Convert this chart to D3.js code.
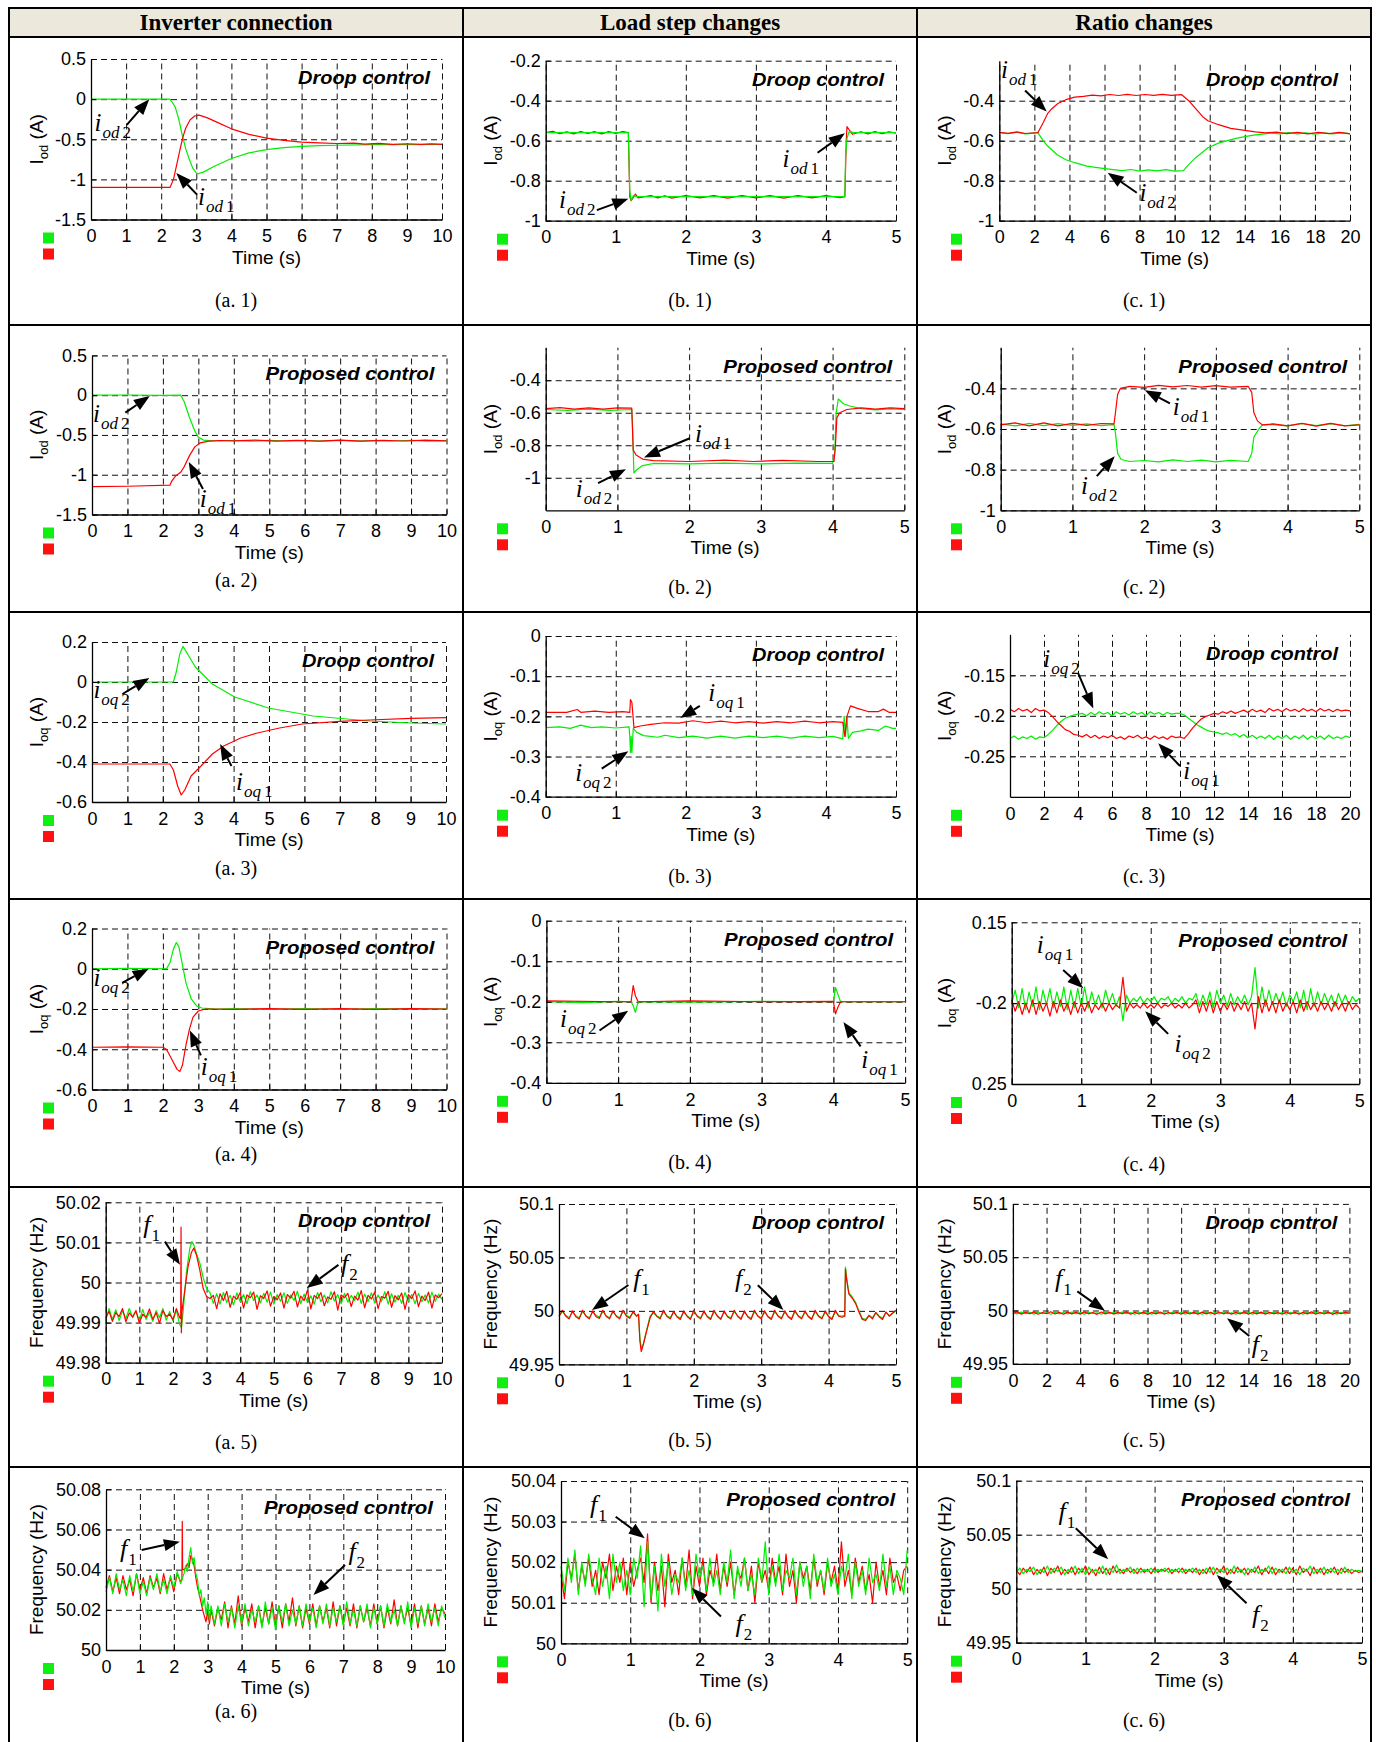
<!DOCTYPE html>
<html>
<head>
<meta charset="utf-8">
<script src="https://cdn.jsdelivr.net/npm/d3@7/dist/d3.min.js"></script>
<style>
body{margin:0;background:#fff;}
svg{display:block;}
</style>
</head>
<body>
<script>
// ---------- table layout ----------
var W = 1376, H = 1742;
var COL_LEFT = [9, 463, 917], COL_RIGHT = [463, 917, 1371];
var ROW_LINES = [8, 37, 325, 612, 899, 1187, 1467];
var headers = ["Inverter connection", "Load step changes", "Ratio changes"];
var SANS = "'Liberation Sans', Arial, sans-serif", SERIF = "'Liberation Serif', 'Times New Roman', serif";
var GREEN = "#00ee00", RED = "#ff0000";
var DROOP = "Droop control", PROPOSED = "Proposed control";

// ---------- ticks ----------
var xTicks10 = [0,1,2,3,4,5,6,7,8,9,10];
var xTicks5 = [0,1,2,3,4,5];
var xTicks20 = [0,2,4,6,8,10,12,14,16,18,20];

// sample times for evenly recorded pieces
function even(t0, t1, vals){
	return vals.map(function(v,i){ return [t0 + i*(t1-t0)/(vals.length-1), v]; });
}

// ---------- row 1 : i_od, droop ----------
var a1Green = [[0,0],[2.25,0],[2.3,-0.03],[2.4,-0.1],[2.5,-0.25],[2.6,-0.45],[2.7,-0.62],[2.8,-0.75],[2.9,-0.86],[3.0,-0.92],[3.05,-0.93],[3.2,-0.91],[3.5,-0.84],[4,-0.74],[4.5,-0.67],[5,-0.63],[5.5,-0.605],[6,-0.59],[6.5,-0.58],[7,-0.575],[8,-0.568],[9,-0.566],[10,-0.565]];
var a1Red = [[0,-1.1],[2.25,-1.1],[2.35,-1.0],[2.45,-0.8],[2.55,-0.6],[2.62,-0.47],[2.7,-0.36],[2.82,-0.26],[2.95,-0.21],[3.08,-0.2],[3.3,-0.23],[3.6,-0.29],[4,-0.37],[4.5,-0.44],[5,-0.485],[5.5,-0.515],[6,-0.535],[6.5,-0.545],[7,-0.553],[7.5,-0.548],[7.8,-0.56],[8.2,-0.552],[8.6,-0.565],[9,-0.556],[9.4,-0.565],[9.7,-0.558],[10,-0.565]];
var a1Notes = [
	{s:"i", sub:"od", n:"2", at:[0.1,-0.4], from:[1.02,-0.32], to:[1.66,0.0]},
	{s:"i", sub:"od", n:"1", at:[3.05,-1.32], from:[3.02,-1.19], to:[2.43,-0.92]}
];

var b1Green = [[0,-0.56],[1.18,-0.56],[1.2,-0.85],[1.22,-0.9],[1.25,-0.875],[1.3,-0.88],[2,-0.88],[3,-0.88],[4,-0.88],[4.27,-0.88],[4.28,-0.68],[4.3,-0.59],[4.33,-0.555],[4.4,-0.56],[5,-0.56]];
var b1Red = [[0,-0.56],[0.1,-0.553],[0.2,-0.565],[0.3,-0.556],[0.4,-0.566],[0.5,-0.554],[0.6,-0.564],[0.7,-0.555],[0.8,-0.566],[0.9,-0.554],[1.0,-0.563],[1.1,-0.555],[1.18,-0.56],[1.2,-0.88],[1.22,-0.9],[1.24,-0.89],[1.28,-0.867],[1.32,-0.886],[1.5,-0.874],[1.6,-0.886],[1.7,-0.875],[1.8,-0.887],[2.0,-0.874],[2.2,-0.886],[2.4,-0.875],[2.6,-0.887],[2.8,-0.874],[3.0,-0.886],[3.2,-0.875],[3.4,-0.887],[3.6,-0.874],[3.8,-0.886],[4.0,-0.875],[4.2,-0.885],[4.27,-0.88],[4.29,-0.6],[4.3,-0.53],[4.33,-0.545],[4.38,-0.568],[4.5,-0.555],[4.6,-0.566],[4.7,-0.554],[4.8,-0.565],[4.9,-0.556],[5,-0.562]];
var b1Notes = [
	{s:"i", sub:"od", n:"1", at:[3.38,-0.73], from:[3.88,-0.66], to:[4.27,-0.563]},
	{s:"i", sub:"od", n:"2", at:[0.19,-0.938], from:[0.73,-0.947], to:[1.18,-0.89]}
];

var c1Green = [[0,-0.56],[0.5,-0.565],[1,-0.558],[1.5,-0.566],[2.2,-0.56],[2.5,-0.6],[2.77,-0.628],[3.3,-0.67],[3.8,-0.695],[4.3,-0.71],[5,-0.727],[5.8,-0.737],[6.5,-0.745],[7,-0.75],[7.5,-0.744],[8,-0.752],[8.5,-0.746],[9,-0.751],[9.5,-0.745],[10,-0.752],[10.5,-0.75],[10.8,-0.72],[11.2,-0.685],[11.9,-0.635],[12.5,-0.612],[13,-0.6],[13.5,-0.588],[14,-0.58],[14.5,-0.572],[15,-0.567],[15.5,-0.562],[16,-0.566],[16.5,-0.56],[17,-0.566],[17.5,-0.561],[18,-0.567],[18.5,-0.561],[19,-0.566],[19.5,-0.561],[20,-0.565]];
var c1Red = [[0,-0.558],[0.5,-0.563],[1,-0.556],[1.5,-0.564],[2.2,-0.56],[2.5,-0.51],[2.77,-0.462],[3.0,-0.44],[3.34,-0.414],[3.8,-0.395],[4.3,-0.382],[4.8,-0.378],[5.3,-0.372],[5.8,-0.376],[6.3,-0.369],[6.8,-0.374],[7.3,-0.368],[7.8,-0.374],[8.3,-0.369],[8.8,-0.373],[9.3,-0.368],[9.8,-0.373],[10.4,-0.37],[10.8,-0.4],[11.2,-0.44],[11.6,-0.48],[11.9,-0.5],[12.5,-0.52],[13.2,-0.538],[14.1,-0.55],[14.6,-0.556],[15.2,-0.561],[15.8,-0.557],[16.4,-0.565],[17,-0.558],[17.6,-0.566],[18.2,-0.558],[18.8,-0.565],[19.4,-0.558],[20,-0.566]];
var c1Notes = [
	{s:"i", sub:"od", n:"1", at:[0.1,-0.288], from:[1.47,-0.349], to:[2.7,-0.454]},
	{s:"i", sub:"od", n:"2", at:[7.99,-0.9], from:[7.84,-0.86], to:[6.18,-0.76]}
];

// ---------- row 2 : i_od, proposed ----------
var a2Green = [[0,0],[1,0.002],[2,-0.002],[2.5,0],[2.6,-0.08],[2.75,-0.28],[2.9,-0.45],[3.0,-0.53],[3.15,-0.565],[3.4,-0.575],[4,-0.57],[4.5,-0.578],[5,-0.568],[5.5,-0.576],[6,-0.57],[6.5,-0.578],[7,-0.568],[7.5,-0.577],[8,-0.57],[8.5,-0.576],[9,-0.568],[9.5,-0.577],[10,-0.572]];
var a2Red = [[0,-1.15],[1,-1.145],[2.2,-1.13],[2.25,-1.08],[2.35,-1.02],[2.5,-0.97],[2.6,-0.9],[2.75,-0.76],[2.9,-0.65],[3.05,-0.6],[3.3,-0.578],[3.6,-0.57],[4,-0.575],[4.6,-0.566],[5.2,-0.578],[5.8,-0.567],[6.4,-0.577],[7,-0.566],[7.6,-0.578],[8.2,-0.567],[8.8,-0.576],[9.4,-0.566],[10,-0.574]];
var a2Notes = [
	{s:"i", sub:"od", n:"2", at:[0.03,-0.34], from:[0.94,-0.22], to:[1.63,-0.01]},
	{s:"i", sub:"od", n:"1", at:[3.04,-1.4], from:[3.13,-1.18], to:[2.73,-0.84]}
];

var b2Green = [[0,-0.58],[0.3,-0.585],[0.6,-0.578],[0.9,-0.585],[1.2,-0.58],[1.21,-0.67],[1.23,-0.97],[1.27,-0.95],[1.35,-0.925],[1.5,-0.912],[2,-0.915],[2.5,-0.91],[3,-0.915],[3.5,-0.91],[4,-0.912],[4.03,-0.85],[4.05,-0.6],[4.08,-0.515],[4.15,-0.545],[4.25,-0.56],[4.4,-0.575],[4.6,-0.582],[4.8,-0.576],[5,-0.58]];
var b2Red = [[0,-0.575],[0.2,-0.568],[0.4,-0.578],[0.6,-0.57],[0.8,-0.578],[1.0,-0.57],[1.2,-0.572],[1.22,-0.83],[1.26,-0.86],[1.35,-0.885],[1.5,-0.895],[2,-0.9],[2.5,-0.892],[2.9,-0.9],[3.3,-0.893],[3.8,-0.9],[4.02,-0.9],[4.04,-0.8],[4.06,-0.63],[4.1,-0.6],[4.2,-0.58],[4.4,-0.57],[4.6,-0.578],[4.8,-0.57],[5,-0.575]];
var b2Notes = [
	{s:"i", sub:"od", n:"1", at:[2.08,-0.782], from:[2.01,-0.757], to:[1.37,-0.875]},
	{s:"i", sub:"od", n:"2", at:[0.42,-1.12], from:[0.73,-1.033], to:[1.12,-0.947]}
];

var c2Green = [[0,-0.575],[0.2,-0.585],[0.4,-0.572],[0.6,-0.583],[0.8,-0.574],[1.0,-0.582],[1.2,-0.575],[1.4,-0.583],[1.58,-0.578],[1.6,-0.62],[1.63,-0.72],[1.68,-0.75],[1.8,-0.76],[2,-0.755],[2.2,-0.762],[2.4,-0.752],[2.6,-0.76],[2.8,-0.753],[3,-0.762],[3.2,-0.754],[3.45,-0.76],[3.5,-0.72],[3.53,-0.64],[3.6,-0.6],[3.65,-0.58],[3.8,-0.578],[4,-0.585],[4.2,-0.573],[4.4,-0.583],[4.6,-0.574],[4.8,-0.584],[5,-0.577]];
var c2Red = [[0,-0.58],[0.2,-0.57],[0.4,-0.585],[0.6,-0.57],[0.8,-0.585],[1,-0.572],[1.2,-0.582],[1.4,-0.573],[1.58,-0.575],[1.6,-0.52],[1.63,-0.43],[1.67,-0.4],[1.8,-0.39],[2,-0.395],[2.2,-0.385],[2.4,-0.393],[2.6,-0.386],[2.8,-0.394],[3,-0.387],[3.2,-0.394],[3.45,-0.39],[3.5,-0.42],[3.53,-0.52],[3.58,-0.56],[3.65,-0.58],[3.8,-0.575],[4,-0.585],[4.2,-0.572],[4.4,-0.586],[4.6,-0.572],[4.8,-0.585],[5,-0.58]];
var c2Notes = [
	{s:"i", sub:"od", n:"1", at:[2.4,-0.53], from:[2.36,-0.474], to:[2.01,-0.409]},
	{s:"i", sub:"od", n:"2", at:[1.12,-0.92], from:[1.34,-0.832], to:[1.59,-0.734]}
];

// ---------- row 3 : i_oq, droop ----------
var a3Green = [[0,0],[2.3,0],[2.38,0.05],[2.48,0.14],[2.57,0.178],[2.7,0.14],[2.92,0.075],[3.4,-0.01],[4.03,-0.075],[4.98,-0.13],[6.25,-0.17],[7.84,-0.195],[9,-0.205],[10,-0.21]];
var a3Red = [[0,-0.41],[2.2,-0.41],[2.3,-0.44],[2.42,-0.52],[2.52,-0.565],[2.62,-0.54],[2.8,-0.47],[3.08,-0.42],[3.4,-0.36],[3.72,-0.32],[4.2,-0.28],[4.67,-0.255],[5.3,-0.23],[5.94,-0.21],[7,-0.197],[7.84,-0.19],[9,-0.182],[10,-0.178]];
var a3Notes = [
	{s:"i", sub:"oq", n:"2", at:[0.04,-0.078], from:[0.86,-0.06], to:[1.62,0.02]},
	{s:"i", sub:"oq", n:"1", at:[4.07,-0.54], from:[3.94,-0.42], to:[3.62,-0.31]}
];

var b3Green = [[0,-0.228],[0.2,-0.226],[0.35,-0.23],[0.5,-0.222],[0.65,-0.228],[0.8,-0.226],[1.0,-0.229],[1.19,-0.226],[1.2,-0.25],[1.21,-0.29],[1.22,-0.25],[1.23,-0.29],[1.25,-0.23],[1.3,-0.24],[1.4,-0.248],[1.6,-0.252],[1.7,-0.247],[1.9,-0.253],[2.1,-0.249],[2.3,-0.254],[2.5,-0.249],[2.7,-0.254],[2.9,-0.249],[3.1,-0.253],[3.3,-0.249],[3.5,-0.254],[3.7,-0.249],[3.9,-0.253],[4.1,-0.25],[4.24,-0.256],[4.26,-0.2],[4.28,-0.25],[4.3,-0.2],[4.32,-0.255],[4.38,-0.24],[4.5,-0.236],[4.6,-0.232],[4.75,-0.235],[4.85,-0.224],[4.95,-0.23],[5,-0.23]];
var b3Red = [[0,-0.19],[0.3,-0.19],[0.45,-0.183],[0.5,-0.19],[0.7,-0.187],[0.9,-0.19],[1.1,-0.188],[1.2,-0.19],[1.21,-0.158],[1.23,-0.165],[1.26,-0.228],[1.35,-0.224],[1.5,-0.22],[1.7,-0.216],[1.9,-0.217],[2.1,-0.211],[2.3,-0.216],[2.5,-0.212],[2.7,-0.216],[2.9,-0.213],[3.1,-0.217],[3.3,-0.213],[3.5,-0.216],[3.7,-0.212],[3.9,-0.216],[4.1,-0.213],[4.24,-0.215],[4.27,-0.25],[4.3,-0.2],[4.35,-0.174],[4.45,-0.18],[4.6,-0.188],[4.75,-0.188],[4.82,-0.182],[4.9,-0.19],[5,-0.19]];
var b3Notes = [
	{s:"i", sub:"oq", n:"1", at:[2.32,-0.163], from:[2.2,-0.174], to:[1.92,-0.204]},
	{s:"i", sub:"oq", n:"2", at:[0.42,-0.36], from:[0.8,-0.33], to:[1.18,-0.287]}
];

var c3Red = [-0.192,-0.195,-0.191,-0.194,-0.192,-0.196,-0.191,-0.194,-0.193,
	-0.196,-0.201,-0.207,-0.212,-0.217,-0.219,-0.223,-0.224,
	-0.226,-0.223,-0.227,-0.224,-0.228,-0.225,-0.227,-0.224,-0.228,-0.226,-0.229,-0.225,-0.227,-0.224,-0.228,-0.226,-0.229,-0.225,-0.228,-0.226,-0.229,-0.225,-0.227,-0.226,
	-0.228,-0.222,-0.215,-0.209,-0.204,-0.201,-0.199,-0.197,
	-0.198,-0.195,-0.197,-0.194,-0.197,-0.195,-0.193,-0.196,-0.192,-0.195,-0.193,-0.196,-0.191,-0.194,-0.192,-0.195,-0.191,-0.194,-0.192,-0.195,-0.191,-0.194,-0.192,-0.195,-0.191,-0.194,-0.192,-0.195,-0.192,-0.194,-0.193,-0.194];
var c3Green = [-0.228,-0.225,-0.229,-0.226,-0.228,-0.225,-0.229,-0.226,-0.227,
	-0.223,-0.218,-0.212,-0.207,-0.203,-0.201,-0.199,-0.198,
	-0.197,-0.2,-0.196,-0.199,-0.195,-0.198,-0.196,-0.2,-0.195,-0.198,-0.196,-0.199,-0.195,-0.198,-0.196,-0.2,-0.195,-0.198,-0.196,-0.199,-0.196,-0.198,-0.197,-0.197,
	-0.199,-0.203,-0.207,-0.211,-0.214,-0.217,-0.219,-0.22,
	-0.221,-0.223,-0.221,-0.224,-0.222,-0.226,-0.223,-0.227,-0.224,-0.228,-0.225,-0.228,-0.224,-0.229,-0.225,-0.228,-0.224,-0.229,-0.225,-0.228,-0.224,-0.229,-0.225,-0.228,-0.225,-0.229,-0.224,-0.228,-0.226,-0.228,-0.225,-0.227];
var c3Notes = [
	{s:"i", sub:"oq", n:"2", at:[1.96,-0.14], from:[4.02,-0.148], to:[4.9,-0.191]},
	{s:"i", sub:"oq", n:"1", at:[10.19,-0.278], from:[10.0,-0.262], to:[8.72,-0.234]}
];

// ---------- row 4 : i_oq, proposed ----------
var a4Green = [[0,0],[1,0.002],[2.1,0],[2.2,0.03],[2.3,0.1],[2.38,0.13],[2.45,0.11],[2.55,0.02],[2.65,-0.07],[2.8,-0.15],[2.95,-0.185],[3.1,-0.195],[3.5,-0.2],[4,-0.198],[5,-0.202],[6,-0.198],[7,-0.202],[8,-0.198],[9,-0.201],[10,-0.199]];
var a4Red = [[0,-0.39],[1,-0.388],[2,-0.39],[2.1,-0.4],[2.25,-0.45],[2.4,-0.5],[2.48,-0.51],[2.55,-0.48],[2.65,-0.38],[2.75,-0.3],[2.85,-0.24],[3,-0.21],[3.2,-0.2],[4,-0.202],[5,-0.198],[6,-0.202],[7,-0.198],[8,-0.202],[9,-0.198],[10,-0.2]];
var a4Notes = [
	{s:"i", sub:"oq", n:"2", at:[0.04,-0.087], from:[0.85,-0.07], to:[1.6,0.0]},
	{s:"i", sub:"oq", n:"1", at:[3.07,-0.53], from:[3.07,-0.43], to:[2.76,-0.307]}
];

var b4Green = [[0,-0.2],[0.5,-0.202],[1,-0.199],[1.18,-0.2],[1.21,-0.21],[1.24,-0.226],[1.27,-0.205],[1.3,-0.2],[2,-0.201],[3,-0.199],[4,-0.2],[4.03,-0.165],[4.06,-0.18],[4.1,-0.2],[5,-0.2]];
var b4Red = [[0,-0.198],[1,-0.2],[1.18,-0.2],[1.21,-0.16],[1.24,-0.185],[1.28,-0.2],[2,-0.198],[3,-0.2],[4,-0.199],[4.03,-0.23],[4.06,-0.215],[4.1,-0.2],[5,-0.2]];
var b4Notes = [
	{s:"i", sub:"oq", n:"2", at:[0.19,-0.263], from:[0.74,-0.271], to:[1.14,-0.222]},
	{s:"i", sub:"oq", n:"1", at:[4.39,-0.364], from:[4.38,-0.31], to:[4.14,-0.25]}
];

var c4Green = [-0.2,-0.192,-0.203,-0.191,-0.204,-0.193,-0.202,-0.19,-0.204,-0.192,-0.201,-0.191,-0.203,-0.193,-0.202,-0.19,-0.204,-0.192,-0.203,-0.191,
	-0.202,-0.19,-0.203,-0.193,-0.201,-0.195,-0.203,-0.192,-0.2,-0.194,-0.202,-0.196,-0.211,-0.195,-0.2,-0.197,
	-0.199,-0.196,-0.2,-0.197,-0.199,-0.196,-0.2,-0.197,-0.198,-0.196,-0.2,-0.197,-0.199,-0.196,-0.2,-0.197,-0.198,
	-0.194,-0.202,-0.195,-0.201,-0.193,-0.203,-0.192,-0.2,-0.195,-0.202,-0.194,-0.201,-0.196,-0.2,-0.195,-0.201,-0.196,
	-0.178,-0.203,-0.19,-0.202,-0.192,-0.201,-0.194,-0.2,-0.193,-0.202,-0.195,-0.199,-0.193,-0.203,-0.192,-0.204,-0.191,-0.202,-0.193,-0.201,-0.194,-0.2,-0.195,-0.202,-0.194,-0.2,-0.195,-0.201,-0.196,-0.199,-0.197];
var c4Red = [-0.198,-0.205,-0.199,-0.207,-0.2,-0.206,-0.198,-0.207,-0.199,-0.205,-0.2,-0.208,-0.199,-0.206,-0.198,-0.205,-0.2,-0.207,-0.199,-0.206,
	-0.2,-0.205,-0.199,-0.206,-0.201,-0.204,-0.2,-0.205,-0.2,-0.204,-0.201,-0.203,-0.184,-0.205,-0.2,-0.203,
	-0.201,-0.203,-0.2,-0.203,-0.201,-0.203,-0.2,-0.203,-0.201,-0.202,-0.2,-0.203,-0.201,-0.203,-0.2,-0.203,-0.201,
	-0.198,-0.206,-0.199,-0.205,-0.198,-0.206,-0.199,-0.205,-0.2,-0.204,-0.199,-0.205,-0.2,-0.204,-0.199,-0.205,-0.2,
	-0.216,-0.196,-0.206,-0.198,-0.205,-0.199,-0.206,-0.198,-0.205,-0.2,-0.204,-0.199,-0.206,-0.198,-0.205,-0.199,-0.204,-0.2,-0.205,-0.199,-0.204,-0.2,-0.205,-0.199,-0.204,-0.2,-0.205,-0.199,-0.204,-0.201,-0.203];
var c4TickLabels = ["0.25", "-0.2", "0.15"];
var c4Notes = [
	{s:"i", sub:"oq", n:"1", at:[0.36,-0.169], from:[0.74,-0.1795], to:[1.03,-0.1908]},
	{s:"i", sub:"oq", n:"2", at:[2.34,-0.23], from:[2.25,-0.219], to:[1.92,-0.205]}
];

// ---------- row 5 : frequency, droop ----------
var a5GreenPre = [49.9905,49.9935,49.9908,49.9932,49.9905,49.993,49.991,49.9935,49.9912,49.9928,49.9905,49.9933,49.9908,49.9926,49.9903,49.993,49.9912,49.9935,49.9906,49.9928,49.9904,49.9932,49.9895];
var a5GreenJump = [[2.25,49.9888],[2.3,49.9925],[2.4,50.0025],[2.5,50.0085],[2.56,50.0102],[2.62,50.0094],[2.7,50.0072],[2.8,50.0048],[2.9,50.0012],[3.0,49.9985],[3.1,49.9975]];
var a5GreenPost = [49.9948,49.9972,49.9946,49.9975,49.995,49.9968,49.9944,49.9974,49.9952,49.997,49.9947,49.9977,49.9955,49.9969,49.9949,49.9973,49.9951,49.9976,49.9946,49.997,49.9953,49.9974,49.9948,49.9969,49.9955,49.9978,49.9947,49.9971,49.995,49.9967,49.9946,49.9975,49.9952,49.9969,49.9949,49.9977,49.9954,49.997,49.9947,49.9973,49.9951,49.9968,49.9955,49.9976,49.9948,49.9971,49.9952,49.9974,49.9949,49.9969,49.9953,49.9977,49.9946,49.9972,49.9951,49.9968,49.9948,49.9975,49.9954,49.997,49.9947,49.9973,49.9952,49.9969,49.9949,49.9976,49.9953,49.9971,49.9958];
var a5RedPre = [49.9912,49.9928,49.9903,49.9925,49.9915,49.9935,49.9902,49.9924,49.9914,49.993,49.9899,49.9921,49.9913,49.9934,49.9908,49.9925,49.9898,49.993,49.9915,49.9921,49.9907,49.9935,49.9912];
var a5RedJump = [[2.23,49.991],[2.24,50.0138],[2.25,49.9875],[2.27,49.993],[2.35,49.998],[2.45,50.004],[2.55,50.0075],[2.62,50.0086],[2.7,50.0068],[2.8,50.003],[2.9,49.9985],[3.0,49.9965],[3.1,49.996]];
var a5RedPost = [49.9968,49.9935,49.9972,49.9955,49.9978,49.9938,49.9966,49.9958,49.9975,49.9936,49.9969,49.9962,49.9976,49.9933,49.9967,49.996,49.9979,49.9941,49.9965,49.9957,49.9974,49.9936,49.997,49.9961,49.9978,49.9939,49.9966,49.9955,49.9981,49.9934,49.9968,49.996,49.9975,49.9942,49.9964,49.9958,49.9977,49.9931,49.9969,49.9962,49.9973,49.994,49.9966,49.9956,49.998,49.9937,49.9968,49.9959,49.9976,49.9935,49.9965,49.9961,49.9978,49.9938,49.9967,49.9957,49.9974,49.9933,49.997,49.996,49.9979,49.994,49.9966,49.9955,49.9976,49.9936,49.9969,49.9962,49.9972];
var a5Notes = [
	{s:"f", n:"1", at:[1.12,50.0123], from:[1.76,50.0102], to:[2.21,50.0044]},
	{s:"f", n:"2", at:[7.0,50.0027], from:[6.92,50.0044], to:[5.98,49.9986]}
];

var b5GreenPre = [49.995,49.9995,49.996,49.9935,49.999,49.9955,49.9935,49.9995,49.9955,49.9935,49.999,49.996,49.994,49.9995,49.9955,49.9935,49.999,49.9955,49.9935,49.9995,49.996,49.994,49.9985,49.995];
var b5GreenDip = [[1.18,49.996],[1.2,49.975],[1.22,49.965],[1.25,49.969],[1.3,49.982],[1.35,49.995],[1.4,49.998]];
var b5GreenMid = [49.9955,49.9935,49.999,49.9955,49.9935,49.9985,49.995,49.993,49.9985,49.9955,49.993,49.999,49.9955,49.9935,49.9985,49.995,49.993,49.999,49.9955,49.993,49.9985,49.995,49.9935,49.999,49.9955,49.993,49.9985,49.995,49.993,49.999,49.9955,49.9935,49.9985,49.995,49.993,49.999,49.9955,49.9935,49.9985,49.995,49.993,49.999,49.9955,49.9935,49.9985,49.995,49.993,49.999,49.9955,49.9935,49.9985,49.995,49.993,49.999,49.9955,49.995];
var b5GreenSpike = [[4.24,49.996],[4.25,50.041],[4.27,50.03],[4.3,50.017],[4.35,50.013],[4.4,50.008],[4.45,50.0],[4.5,49.993]];
var b5GreenPost = [49.992,49.996,49.9935,49.998,49.995,49.993,49.9985,49.9955,49.9975,50.0];
var b5RedPre = [49.995,50.0005,49.995,49.9925,50.0,49.9945,49.9925,50.0005,49.995,49.9925,50.0,49.9945,49.993,50.0005,49.995,49.9925,50.0,49.995,49.9925,50.0005,49.995,49.993,49.9995,49.995];
var b5RedDip = [[1.18,49.997],[1.2,49.972],[1.22,49.962],[1.25,49.968],[1.3,49.981],[1.35,49.993],[1.4,49.9995]];
var b5RedMid = [49.995,49.9925,50.0005,49.995,49.9925,49.9995,49.9945,49.992,50.0,49.995,49.992,50.0005,49.995,49.9925,50.0,49.9945,49.992,50.0005,49.995,49.992,50.0,49.9945,49.9925,50.0005,49.995,49.992,50.0,49.9945,49.992,50.0005,49.995,49.9925,50.0,49.9945,49.992,50.0005,49.995,49.9925,50.0,49.9945,49.992,50.0005,49.995,49.9925,50.0,49.9945,49.992,50.0005,49.995,49.9925,50.0,49.9945,49.992,50.0005,49.995,49.994];
var b5RedSpike = [[4.24,49.995],[4.25,50.039],[4.27,50.028],[4.3,50.016],[4.35,50.012],[4.4,50.007],[4.45,49.999],[4.5,49.992]];
var b5RedPost = [49.991,49.9955,49.9925,49.9985,49.9945,49.992,49.999,49.995,49.998,50.0005];
var b5Notes = [
	{s:"f", n:"1", at:[1.1,50.0226], from:[1.03,50.0242], to:[0.49,50.0008]},
	{s:"f", n:"2", at:[2.61,50.0226], from:[2.95,50.024], to:[3.33,50.0008]}
];

var c5Green = [49.998,49.9968,49.9985,49.997,49.9982,49.9966,49.9984,49.9971,49.9979,49.9965,49.9983,49.9969,49.9981,49.9967,49.9986,49.997,49.998,49.9966,49.9983,49.9972,49.9979,49.9965,49.9984,49.9969,49.9982,49.9967,49.9985,49.9971,49.998,49.9966,49.9983,49.9968,49.9981,49.9965,49.9984,49.997,49.9979,49.9967,49.9985,49.9969,49.9982,49.9966,49.9983,49.9971,49.998,49.9965,49.9984,49.9968,49.9981,49.9967,49.9986,49.997,49.9979,49.9966,49.9983,49.9969,49.9982,49.9965,49.9984,49.9971,49.998,49.9967,49.9985,49.9968,49.9981,49.9966,49.9983,49.997,49.9979,49.9965,49.9984,49.9969,49.9982,49.9967,49.9985,49.9971,49.998,49.9966,49.9983,49.9968,49.9978];
var c5Red = [49.9972,49.9986,49.9966,49.9983,49.9969,49.9987,49.9965,49.9981,49.997,49.9988,49.9967,49.9982,49.9965,49.9985,49.9968,49.9983,49.9966,49.9987,49.9969,49.9981,49.9964,49.9986,49.9968,49.9984,49.9966,49.9982,49.9969,49.9987,49.9965,49.9983,49.9967,49.9985,49.9964,49.9982,49.9968,49.9986,49.9966,49.9981,49.9969,49.9984,49.9965,49.9987,49.9967,49.9982,49.9966,49.9985,49.9968,49.9983,49.9964,49.9986,49.9969,49.9981,49.9966,49.9984,49.9967,49.9987,49.9965,49.9982,49.9968,49.9985,49.9966,49.9983,49.9969,49.9981,49.9965,49.9986,49.9967,49.9984,49.9966,49.9982,49.9968,49.9987,49.9965,49.9983,49.9967,49.9985,49.9964,49.9982,49.9969,49.9984,49.9974];
var c5Notes = [
	{s:"f", n:"1", at:[2.5,50.022], from:[3.83,50.018], to:[5.47,49.9997]},
	{s:"f", n:"2", at:[14.19,49.9604], from:[14.05,49.976], to:[12.73,49.9927]}
];

// ---------- row 6 : frequency, proposed ----------
var a6GreenPre = [50.029,50.036,50.028,50.038,50.03,50.035,50.027,50.037,50.029,50.038,50.028,50.034,50.027,50.036,50.03,50.038,50.029,50.035,50.028,50.037,50.031,50.039,50.033];
var a6GreenJump = [[2.3,50.038],[2.35,50.042],[2.4,50.039],[2.45,50.046],[2.5,50.051],[2.55,50.043],[2.6,50.046],[2.65,50.038],[2.7,50.035],[2.75,50.027],[2.8,50.03],[2.85,50.022],[2.9,50.026],[2.95,50.018],[3.0,50.024],[3.05,50.015],[3.1,50.022]];
var a6GreenPost = [50.013,50.022,50.012,50.023,50.014,50.021,50.011,50.022,50.013,50.023,50.012,50.02,50.014,50.022,50.011,50.024,50.013,50.021,50.01,50.022,50.014,50.023,50.012,50.02,50.013,50.022,50.012,50.023,50.014,50.021,50.011,50.022,50.013,50.023,50.012,50.021,50.014,50.022,50.012,50.024,50.013,50.02,50.012,50.022,50.014,50.023,50.011,50.021,50.013,50.022,50.012,50.023,50.014,50.02,50.012,50.022,50.013,50.024,50.011,50.021,50.013,50.022,50.012,50.023,50.014,50.021,50.012,50.022,50.016];
var a6RedPre = [50.031,50.037,50.029,50.036,50.028,50.037,50.03,50.035,50.027,50.038,50.03,50.036,50.028,50.037,50.031,50.036,50.028,50.038,50.03,50.036,50.029,50.038,50.034];
var a6RedJump = [[2.24,50.035],[2.25,50.064],[2.26,50.04],[2.3,50.04],[2.35,50.041],[2.4,50.043],[2.45,50.041],[2.5,50.047],[2.55,50.045],[2.6,50.042],[2.65,50.036],[2.7,50.031],[2.75,50.028],[2.8,50.024],[2.85,50.02],[2.9,50.017],[2.95,50.014],[3.0,50.02],[3.05,50.013],[3.1,50.02]];
var a6RedPost = [50.012,50.021,50.015,50.024,50.011,50.022,50.013,50.027,50.012,50.021,50.014,50.023,50.011,50.022,50.012,50.021,50.013,50.024,50.012,50.022,50.011,50.023,50.014,50.026,50.012,50.022,50.011,50.021,50.013,50.023,50.012,50.022,50.014,50.021,50.011,50.024,50.012,50.022,50.013,50.021,50.012,50.023,50.011,50.022,50.014,50.021,50.012,50.023,50.013,50.022,50.011,50.021,50.013,50.025,50.012,50.022,50.014,50.021,50.012,50.023,50.011,50.022,50.013,50.021,50.012,50.023,50.014,50.021,50.018];
var a6Notes = [
	{s:"f", n:"1", at:[0.41,50.0465], from:[1.05,50.0498], to:[2.18,50.0539]},
	{s:"f", n:"2", at:[7.15,50.0448], from:[7.05,50.0423], to:[6.12,50.0274]}
];

var b6Green = [50.019,50.013,50.021,50.015,50.023,50.012,50.02,50.014,50.022,50.016,50.012,50.021,50.014,50.019,50.011,50.022,50.015,50.02,50.013,50.018,
	50.012,50.021,50.016,50.024,50.009,50.025,50.011,50.019,50.008,50.022,50.014,50.02,50.012,50.017,50.015,50.021,50.013,50.018,50.012,50.022,
	50.016,50.019,50.013,50.021,50.014,50.018,50.012,50.02,50.015,50.023,50.011,50.019,50.014,50.021,50.013,50.017,50.012,50.021,50.015,50.025,
	50.012,50.019,50.014,50.022,50.013,50.018,50.016,50.021,50.012,50.02,50.014,50.019,50.011,50.022,50.015,50.018,50.013,50.021,50.014,50.017,
	50.012,50.019,50.016,50.022,50.011,50.02,50.014,50.018,50.012,50.021,50.015,50.017,50.013,50.022,50.014,50.019,50.012,50.018,50.016,50.012,50.023];
var b6Red = [50.017,50.011,50.02,50.016,50.022,50.013,50.019,50.015,50.021,50.014,50.018,50.012,50.02,50.016,50.022,50.013,50.019,50.015,50.021,50.012,
	50.02,50.014,50.018,50.021,50.015,50.027,50.01,50.02,50.013,50.019,50.009,50.022,50.015,50.018,50.012,50.021,50.014,50.023,50.011,50.019,
	50.014,50.021,50.012,50.018,50.015,50.022,50.013,50.019,50.014,50.02,50.012,50.018,50.016,50.021,50.013,50.019,50.01,50.02,50.015,50.018,
	50.013,50.021,50.015,50.019,50.012,50.022,50.014,50.018,50.01,50.02,50.016,50.019,50.013,50.021,50.014,50.018,50.012,50.02,50.015,50.019,
	50.013,50.025,50.014,50.018,50.012,50.021,50.015,50.019,50.013,50.017,50.01,50.02,50.014,50.018,50.012,50.021,50.015,50.017,50.013,50.018,50.019];
var b6Notes = [
	{s:"f", n:"1", at:[0.42,50.032], from:[0.79,50.0312], to:[1.21,50.0259]},
	{s:"f", n:"2", at:[2.52,50.0029], from:[2.31,50.0066], to:[1.89,50.0136]}
];

var c6Green = [50.015,50.019,50.014,50.018,50.016,50.02,50.013,50.018,50.015,50.021,50.014,50.019,50.016,50.02,50.013,50.018,50.015,50.021,50.014,50.019,50.013,50.02,50.015,50.018,50.014,50.021,50.013,50.019,50.015,50.022,50.014,50.018,50.016,50.02,50.014,50.019,50.015,50.018,50.016,50.019,50.015,50.018,50.016,50.019,50.015,50.018,50.016,50.019,50.015,50.018,50.016,50.019,50.015,50.018,50.014,50.019,50.015,50.02,50.014,50.018,50.015,50.019,50.014,50.021,50.015,50.018,50.013,50.019,50.015,50.02,50.014,50.018,50.016,50.021,50.014,50.019,50.015,50.018,50.014,50.02,50.015,50.018,50.013,50.019,50.016,50.021,50.014,50.018,50.015,50.02,50.014,50.019,50.015,50.018,50.014,50.02,50.015,50.018,50.016,50.017,50.016];
var c6Red = [50.017,50.013,50.019,50.015,50.02,50.013,50.018,50.014,50.02,50.012,50.019,50.015,50.021,50.013,50.018,50.014,50.02,50.013,50.019,50.015,50.021,50.013,50.018,50.012,50.02,50.014,50.019,50.013,50.021,50.015,50.018,50.014,50.019,50.015,50.018,50.014,50.019,50.015,50.018,50.014,50.019,50.015,50.018,50.016,50.019,50.014,50.018,50.015,50.019,50.014,50.018,50.015,50.019,50.013,50.018,50.014,50.02,50.013,50.019,50.015,50.021,50.013,50.018,50.014,50.02,50.015,50.019,50.013,50.018,50.015,50.021,50.013,50.019,50.014,50.02,50.013,50.018,50.015,50.02,50.014,50.019,50.013,50.021,50.015,50.018,50.012,50.02,50.014,50.019,50.013,50.018,50.015,50.02,50.013,50.019,50.015,50.018,50.014,50.017,50.015,50.016];
var c6Notes = [
	{s:"f", n:"1", at:[0.61,50.0637], from:[0.86,50.056], to:[1.33,50.0273]},
	{s:"f", n:"2", at:[3.41,49.968], from:[3.33,49.9866], to:[2.9,50.0128]}
];

// ---------- panel table ----------
var panels = [
	{col:0, row:0, box:[91,59,442,219.5], cap:307, xd:[0,10], xt:xTicks10, yd:[-1.5,0.5], yt:[-1.5,-1,-0.5,0,0.5], yl:"od", title:DROOP, g:a1Green, r:a1Red, notes:a1Notes},
	{col:1, row:0, box:[545.7,60.7,896,220.7], cap:307, xd:[0,5], xt:xTicks5, yd:[-1,-0.2], yt:[-1,-0.8,-0.6,-0.4,-0.2], yl:"od", title:DROOP, greenTop:true, g:b1Green, r:b1Red, notes:b1Notes},
	{col:2, row:0, box:[999.3,60.7,1350,220.7], cap:307, xd:[0,20], xt:xTicks20, yd:[-1,-0.2], yt:[-1,-0.8,-0.6,-0.4], yl:"od", title:DROOP, g:c1Green, r:c1Red, notes:c1Notes},
	{col:0, row:1, box:[92,355.4,446.5,514.5], cap:587, xd:[0,10], xt:xTicks10, yd:[-1.5,0.5], yt:[-1.5,-1,-0.5,0,0.5], yl:"od", title:PROPOSED, g:a2Green, r:a2Red, notes:a2Notes},
	{col:1, row:1, box:[545.7,347.7,904.3,510.3], cap:594, xd:[0,5], xt:xTicks5, yd:[-1.2,-0.2], yt:[-1,-0.8,-0.6,-0.4], yl:"od", title:PROPOSED, g:b2Green, r:b2Red, notes:b2Notes},
	{col:2, row:1, box:[1000.7,347.7,1359.3,510.3], cap:594, xd:[0,5], xt:xTicks5, yd:[-1,-0.2], yt:[-1,-0.8,-0.6,-0.4], yl:"od", title:PROPOSED, g:c2Green, r:c2Red, notes:c2Notes},
	{col:0, row:2, box:[92,642,446,802], cap:875, xd:[0,10], xt:xTicks10, yd:[-0.6,0.2], yt:[-0.6,-0.4,-0.2,0,0.2], yl:"oq", title:DROOP, g:a3Green, r:a3Red, notes:a3Notes},
	{col:1, row:2, box:[545.7,636,896,796.7], cap:883, xd:[0,5], xt:xTicks5, yd:[-0.4,0], yt:[-0.4,-0.3,-0.2,-0.1,0], yl:"oq", title:DROOP, g:b3Green, r:b3Red, notes:b3Notes},
	{col:2, row:2, box:[1010,634.8,1350,796.8], cap:883, xd:[0,20], xt:xTicks20, yd:[-0.3,-0.1], yt:[-0.25,-0.2,-0.15], yl:"oq", title:DROOP, g:even(0,20,c3Green), r:even(0,20,c3Red), notes:c3Notes},
	{col:0, row:3, box:[92,928.5,446.5,1089.5], cap:1161, xd:[0,10], xt:xTicks10, yd:[-0.6,0.2], yt:[-0.6,-0.4,-0.2,0,0.2], yl:"oq", title:PROPOSED, g:a4Green, r:a4Red, notes:a4Notes},
	{col:1, row:3, box:[546.4,920.7,905.1,1082.8], cap:1169, xd:[0,5], xt:xTicks5, yd:[-0.4,0], yt:[-0.4,-0.3,-0.2,-0.1,0], yl:"oq", title:PROPOSED, g:b4Green, r:b4Red, notes:b4Notes},
	{col:2, row:3, box:[1011.7,922.3,1359.3,1084], cap:1171, xd:[0,5], xt:xTicks5, yd:[-0.25,-0.15], yt:[-0.25,-0.2,-0.15], ytl:c4TickLabels, yl:"oq", title:PROPOSED, g:even(0,5,c4Green), r:even(0,5,c4Red), notes:c4Notes},
	{col:0, row:4, box:[105.7,1202.3,442,1362.7], cap:1449, xd:[0,10], xt:xTicks10, yd:[49.98,50.02], yt:[49.98,49.99,50,50.01,50.02], yl:"freq", title:DROOP,
		g:[].concat(even(0,2.2,a5GreenPre), a5GreenJump, even(3.2,10,a5GreenPost)), r:[].concat(even(0,2.2,a5RedPre), a5RedJump, even(3.2,10,a5RedPost)), notes:a5Notes},
	{col:1, row:4, box:[559,1204,896,1364.3], cap:1447, xd:[0,5], xt:xTicks5, yd:[49.95,50.1], yt:[49.95,50,50.05,50.1], yl:"freq", title:DROOP,
		g:[].concat(even(0,1.15,b5GreenPre), b5GreenDip, even(1.45,4.2,b5GreenMid), b5GreenSpike, even(4.55,5,b5GreenPost)),
		r:[].concat(even(0,1.15,b5RedPre), b5RedDip, even(1.45,4.2,b5RedMid), b5RedSpike, even(4.55,5,b5RedPost)), notes:b5Notes},
	{col:2, row:4, box:[1012.9,1203.9,1349.4,1363.8], cap:1447, xd:[0,20], xt:xTicks20, yd:[49.95,50.1], yt:[49.95,50,50.05,50.1], yl:"freq", title:DROOP, g:even(0,20,c5Green), r:even(0,20,c5Red), notes:c5Notes},
	{col:0, row:5, box:[106,1489.3,445,1650], cap:1718, xd:[0,10], xt:xTicks10, yd:[50,50.08], yt:[50,50.02,50.04,50.06,50.08], yl:"freq", title:PROPOSED, greenTop:true,
		g:[].concat(even(0,2.2,a6GreenPre), a6GreenJump, even(3.2,10,a6GreenPost)), r:[].concat(even(0,2.2,a6RedPre), a6RedJump, even(3.2,10,a6RedPost)), notes:a6Notes},
	{col:1, row:5, box:[561,1481,907.2,1643.3], cap:1727, xd:[0,5], xt:xTicks5, yd:[50,50.04], yt:[50,50.01,50.02,50.03,50.04], yl:"freq", title:PROPOSED, greenTop:true, g:even(0,5,b6Green), r:even(0,5,b6Red), notes:b6Notes},
	{col:2, row:5, box:[1016.3,1480.7,1362,1642.7], cap:1727, xd:[0,5], xt:xTicks5, yd:[49.95,50.1], yt:[49.95,50,50.05,50.1], yl:"freq", title:PROPOSED, greenTop:true, g:even(0,5,c6Green), r:even(0,5,c6Red), notes:c6Notes}
];

// ---------- drawing ----------
var svg = d3.select("body").append("svg").attr("width", W).attr("height", H);
svg.append("rect").attr("width", W).attr("height", H).attr("fill", "#fff");

// header band + table lines
svg.append("rect").attr("x", 9).attr("y", 8).attr("width", 1362).attr("height", 29).attr("fill", "#ECE9DC");
headers.forEach(function(h, i){
	svg.append("text").attr("x", (COL_LEFT[i]+COL_RIGHT[i])/2).attr("y", 30)
		.attr("text-anchor", "middle").attr("font-family", SERIF).attr("font-weight", "bold")
		.attr("font-size", 23).text(h);
});
ROW_LINES.forEach(function(yy){
	svg.append("line").attr("x1", 8).attr("x2", 1372).attr("y1", yy).attr("y2", yy)
		.attr("stroke", "#000").attr("stroke-width", 2);
});
[9, 463, 917, 1371].forEach(function(xx){
	svg.append("line").attr("x1", xx).attr("x2", xx).attr("y1", 7).attr("y2", H)
		.attr("stroke", "#000").attr("stroke-width", 2);
});

function drawPanel(p){
	var l = p.box[0], t = p.box[1], r = p.box[2], b = p.box[3];
	var cl = COL_LEFT[p.col], cr = COL_RIGHT[p.col];
	var x = d3.scaleLinear().domain(p.xd).range([l, r]);
	var y = d3.scaleLinear().domain(p.yd).range([b, t]);
	var g = svg.append("g").attr("class", "panel");

	// dashed grid
	var gx = g.append("g").attr("transform", "translate(0," + b + ")")
		.call(d3.axisBottom(x).tickValues(p.xt).tickSize(-(b-t)).tickSizeOuter(0).tickFormat(""));
	gx.select(".domain").remove();
	gx.selectAll("line").attr("stroke", "#111").attr("stroke-width", 1).attr("stroke-dasharray", "6,4");
	var gy = g.append("g").attr("transform", "translate(" + l + ",0)")
		.call(d3.axisLeft(y).tickValues(p.yt).tickSize(-(r-l)).tickSizeOuter(0).tickFormat(""));
	gy.select(".domain").remove();
	gy.selectAll("line").attr("stroke", "#111").attr("stroke-width", 1).attr("stroke-dasharray", "6,4");

	// curves
	var line = d3.line().x(function(d){ return x(d[0]); }).y(function(d){ return y(d[1]); });
	var order = p.greenTop ? [[p.r, RED], [p.g, GREEN]] : [[p.g, GREEN], [p.r, RED]];
	order.forEach(function(s){
		g.append("path").datum(s[0]).attr("d", line).attr("fill", "none")
			.attr("stroke", s[1]).attr("stroke-width", 1.2).attr("stroke-linejoin", "round");
	});

	// solid axes with inward ticks
	var fmtY = function(d, i){ return p.ytl ? p.ytl[i] : String(d); };
	var ax = g.append("g").attr("transform", "translate(0," + b + ")")
		.call(d3.axisBottom(x).tickValues(p.xt).tickSize(-5).tickSizeOuter(0).tickPadding(10).tickFormat(function(d){ return String(d); }));
	var ay = g.append("g").attr("transform", "translate(" + l + ",0)")
		.call(d3.axisLeft(y).tickValues(p.yt).tickSize(-5).tickSizeOuter(0).tickPadding(5).tickFormat(fmtY));
	[ax, ay].forEach(function(a){
		a.attr("font-family", SANS).attr("font-size", 18);
		a.select(".domain").attr("stroke", "#000").attr("stroke-width", 1.3);
		a.selectAll(".tick line").attr("stroke", "#000").attr("stroke-width", 1);
		a.selectAll(".tick text").attr("fill", "#000");
	});

	// axis titles
	g.append("text").attr("x", (l+r)/2).attr("y", b+44).attr("text-anchor", "middle")
		.attr("font-family", SANS).attr("font-size", 19).text("Time (s)");
	var yt = g.append("text").attr("transform", "translate(" + (cl+34) + "," + ((t+b)/2) + ") rotate(-90)")
		.attr("text-anchor", "middle").attr("font-family", SANS).attr("font-size", 19);
	if(p.yl === "freq"){
		yt.text("Frequency (Hz)");
	}else{
		yt.append("tspan").text("I");
		yt.append("tspan").attr("font-size", 13).attr("dy", 5).text(p.yl);
		yt.append("tspan").attr("dy", -5).text(" (A)");
	}

	// panel title
	g.append("text").attr("x", r-12).attr("y", t+25).attr("text-anchor", "end")
		.attr("font-family", SANS).attr("font-weight", "bold").attr("font-style", "italic")
		.attr("font-size", 19).attr("textLength", p.title === DROOP ? 132 : 169)
		.attr("lengthAdjust", "spacingAndGlyphs").text(p.title);

	// empty legend swatches
	g.append("rect").attr("x", cl+34).attr("y", b+13).attr("width", 11).attr("height", 11).attr("fill", "#11ee11");
	g.append("rect").attr("x", cl+34).attr("y", b+29).attr("width", 11).attr("height", 11).attr("fill", "#ff1111");

	// caption
	g.append("text").attr("x", (cl+cr)/2).attr("y", p.cap).attr("text-anchor", "middle")
		.attr("font-family", SERIF).attr("font-size", 20)
		.text("(" + "abc"[p.col] + ". " + (p.row+1) + ")");

	// arrows and labels
	p.notes.forEach(function(n){
		var x1 = x(n.from[0]), y1 = y(n.from[1]), x2 = x(n.to[0]), y2 = y(n.to[1]);
		var ang = Math.atan2(y2-y1, x2-x1), L = 16, hw = 6;
		var bx = x2 - L*Math.cos(ang), by = y2 - L*Math.sin(ang);
		g.append("line").attr("x1", x1).attr("y1", y1).attr("x2", bx).attr("y2", by)
			.attr("stroke", "#000").attr("stroke-width", 2);
		g.append("path").attr("fill", "#000")
			.attr("d", "M" + x2 + "," + y2 + "L" + (bx + hw*Math.sin(ang)) + "," + (by - hw*Math.cos(ang)) +
				"L" + (bx - hw*Math.sin(ang)) + "," + (by + hw*Math.cos(ang)) + "Z");
		var tx = g.append("text").attr("x", x(n.at[0])).attr("y", y(n.at[1]))
			.attr("font-family", SERIF).attr("font-size", n.s === "f" ? 26 : 25);
		tx.append("tspan").attr("font-style", "italic").text(n.s);
		if(n.sub){
			tx.append("tspan").attr("font-style", "italic").attr("font-size", 17).attr("dy", 7).attr("dx", 1).text(n.sub);
			tx.append("tspan").attr("font-size", 17).attr("dx", 3).text(n.n);
		}else{
			tx.append("tspan").attr("font-size", 17).attr("dy", 8).attr("dx", 1).text(n.n);
		}
	});
}

panels.forEach(drawPanel);
</script>
</body>
</html>
